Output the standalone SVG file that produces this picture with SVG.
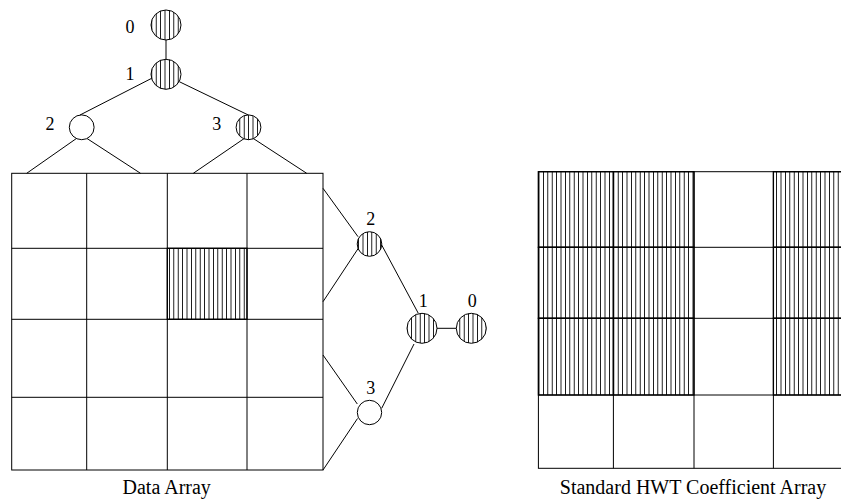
<svg xmlns="http://www.w3.org/2000/svg" width="841" height="499" viewBox="0 0 841 499">
  <style>
    .ln { stroke: #000; stroke-width: 1; fill: none; }
    .grid { stroke: #000; stroke-width: 1; fill: none; }
    .hcell { fill: url(#vhatch); stroke: #000; stroke-width: 1.3; }
    .node { stroke: #000; stroke-width: 1; }
    .plain { fill: #fff; }
    .hatched { fill: url(#vhatch); }
    .lbl { font-family: "Liberation Serif", "Times New Roman", serif; font-size: 18px; fill: #000; text-anchor: middle; }
    .cap { font-family: "Liberation Serif", "Times New Roman", serif; font-size: 20px; fill: #000; text-anchor: middle; }
  </style>
  <defs>
    <pattern id="vhatch" patternUnits="userSpaceOnUse" width="4.4" height="10">
      <rect width="4.4" height="10" fill="#fff"/>
      <line x1="2.2" y1="0" x2="2.2" y2="10" stroke="#000" stroke-width="0.9"/>
    </pattern>
  </defs>
  <rect width="841" height="499" fill="#fff"/>

  <!-- data array: 4x4 grid with one shaded cell -->
  <g id="data-array">
    <rect class="hcell" x="167.3" y="248.3" width="79.7" height="71"/>
    <rect class="grid" x="11.7" y="173.3" width="311.3" height="296.7"/>
    <line class="grid" x1="86.7" y1="173.3" x2="86.7" y2="470"/>
    <line class="grid" x1="167.3" y1="173.3" x2="167.3" y2="470"/>
    <line class="grid" x1="247" y1="173.3" x2="247" y2="470"/>
    <line class="grid" x1="11.7" y1="248.3" x2="323" y2="248.3"/>
    <line class="grid" x1="11.7" y1="319.3" x2="323" y2="319.3"/>
    <line class="grid" x1="11.7" y1="397.3" x2="323" y2="397.3"/>
    <text class="cap" x="166.7" y="494">Data Array</text>
  </g>

  <!-- coefficient array (runs past the right edge) -->
  <g id="coef-array">
    <rect class="hcell" x="538.4" y="171.7" width="75" height="75.6"/>
    <rect class="hcell" x="538.4" y="247.3" width="75" height="71"/>
    <rect class="hcell" x="538.4" y="318.3" width="75" height="76.7"/>
    <rect class="hcell" x="613.4" y="171.7" width="80.6" height="75.6"/>
    <rect class="hcell" x="613.4" y="247.3" width="80.6" height="71"/>
    <rect class="hcell" x="613.4" y="318.3" width="80.6" height="76.7"/>
    <rect class="hcell" x="773.4" y="171.7" width="76.3" height="75.6"/>
    <rect class="hcell" x="773.4" y="247.3" width="76.3" height="71"/>
    <rect class="hcell" x="773.4" y="318.3" width="76.3" height="76.7"/>
    <rect class="grid" x="538.4" y="171.7" width="311.3" height="296.6"/>
    <line class="grid" x1="613.4" y1="171.7" x2="613.4" y2="468.3"/>
    <line class="grid" x1="694" y1="171.7" x2="694" y2="468.3"/>
    <line class="grid" x1="773.4" y1="171.7" x2="773.4" y2="468.3"/>
    <line class="grid" x1="538.4" y1="247.3" x2="849.7" y2="247.3"/>
    <line class="grid" x1="538.4" y1="318.3" x2="849.7" y2="318.3"/>
    <line class="grid" x1="538.4" y1="395" x2="849.7" y2="395"/>
    <text class="cap" x="693" y="494">Standard HWT Coefficient Array</text>
  </g>

  <!-- tree edges -->
  <g id="connectors">
    <!-- column tree -->
    <line class="ln" x1="166" y1="40" x2="166" y2="59.3"/>
    <line class="ln" x1="151.7" y1="78.3" x2="80" y2="115"/>
    <line class="ln" x1="179.3" y1="81.7" x2="248.3" y2="115"/>
    <line class="ln" x1="76.7" y1="138.3" x2="26.7" y2="173.3"/>
    <line class="ln" x1="86.7" y1="138.3" x2="140.5" y2="173.3"/>
    <line class="ln" x1="244.5" y1="138.3" x2="193.3" y2="173.3"/>
    <line class="ln" x1="253" y1="138.3" x2="306.7" y2="173.3"/>
    <!-- row tree -->
    <line class="ln" x1="323" y1="188.3" x2="358" y2="236.7"/>
    <line class="ln" x1="323" y1="301.7" x2="358.3" y2="248.3"/>
    <line class="ln" x1="381.7" y1="245" x2="418.3" y2="313.3"/>
    <line class="ln" x1="323" y1="355" x2="357.3" y2="404"/>
    <line class="ln" x1="323" y1="470" x2="357.5" y2="418.5"/>
    <line class="ln" x1="381.7" y1="408.3" x2="414" y2="344"/>
    <line class="ln" x1="437" y1="328.3" x2="456.3" y2="328.3"/>
  </g>

  <!-- column tree nodes -->
  <g id="col-n0"><circle class="node hatched" cx="166" cy="25" r="15"/><text class="lbl" x="130" y="33">0</text></g>
  <g id="col-n1"><circle class="node hatched" cx="166" cy="74.3" r="15"/><text class="lbl" x="130" y="80">1</text></g>
  <g id="col-n2"><circle class="node plain" cx="81.7" cy="127.3" r="12.4"/><text class="lbl" x="50" y="130">2</text></g>
  <g id="col-n3"><circle class="node hatched" cx="248.5" cy="127.3" r="12.4"/><text class="lbl" x="216.7" y="130">3</text></g>

  <!-- row tree nodes -->
  <g id="row-n2"><circle class="node hatched" cx="369.5" cy="244" r="12.3"/><text class="lbl" x="370.7" y="225">2</text></g>
  <g id="row-n3"><circle class="node plain" cx="369.5" cy="412.5" r="12.2"/><text class="lbl" x="370.7" y="394">3</text></g>
  <g id="row-n1"><circle class="node hatched" cx="422" cy="328.3" r="15"/><text class="lbl" x="423.3" y="307">1</text></g>
  <g id="row-n0"><circle class="node hatched" cx="471.3" cy="328.3" r="15"/><text class="lbl" x="472.3" y="307">0</text></g>
</svg>
